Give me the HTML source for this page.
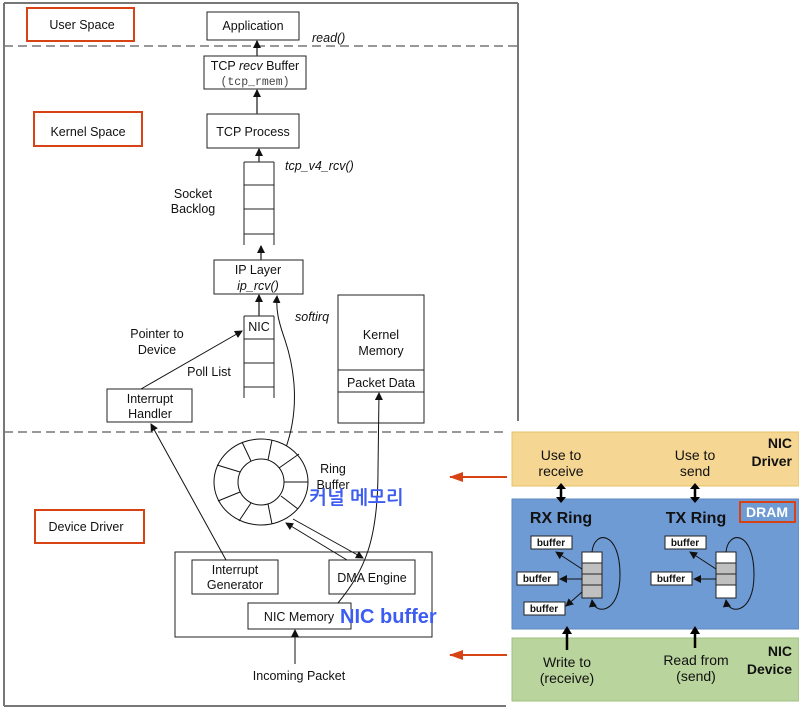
<!DOCTYPE html>
<html><head><meta charset="utf-8"><style>
html,body{margin:0;padding:0;background:#fff;}
svg{display:block;font-family:"Liberation Sans",Arial,sans-serif;}
</style></head><body>
<svg width="799" height="710" viewBox="0 0 799 710" xmlns="http://www.w3.org/2000/svg">
<defs>
<marker id="ah" markerWidth="8" markerHeight="8" refX="7" refY="4" orient="auto" markerUnits="userSpaceOnUse"><path d="M0,0 L8,4 L0,8 z" fill="#111"/></marker>
<marker id="ahr" markerWidth="14" markerHeight="12" refX="13" refY="6" orient="auto" markerUnits="userSpaceOnUse"><path d="M0,1 L14,6 L0,11 z" fill="#d84315"/></marker>
</defs>
<!-- frame -->
<g stroke="#777" stroke-width="2" fill="none">
<line x1="4" y1="3" x2="518" y2="3"/>
<line x1="4" y1="3" x2="4" y2="706"/>
<line x1="518" y1="3" x2="518" y2="421"/>
<line x1="4" y1="706" x2="506" y2="706"/>
</g>
<g stroke="#777" stroke-width="1.5" stroke-dasharray="9,5">
<line x1="4" y1="46" x2="518" y2="46"/>
<line x1="4" y1="432" x2="506" y2="432"/>
</g>
<!-- label boxes -->
<g fill="none" stroke="#d84315" stroke-width="2">
<rect x="27" y="8" width="107" height="33"/>
<rect x="34" y="112" width="108" height="34"/>
<rect x="35" y="510" width="109" height="33"/>
</g>
<g font-size="12.5" fill="#111" text-anchor="middle">
<text x="82" y="29">User Space</text>
<text x="88" y="136">Kernel Space</text>
<text x="86" y="531">Device Driver</text>
</g>
<!-- boxes -->
<g fill="#fff" stroke="#222" stroke-width="1">
<rect x="207" y="12" width="92" height="28"/>
<rect x="204" y="56" width="102" height="33"/>
<rect x="207" y="114" width="92" height="34"/>
<rect x="214" y="260" width="89" height="34"/>
<rect x="107" y="389" width="85" height="33"/>
<rect x="338" y="295" width="86" height="128"/>
<rect x="175" y="552" width="257" height="85"/>
<rect x="192" y="560" width="86" height="34"/>
<rect x="329" y="560" width="86" height="34"/>
<rect x="248" y="603" width="103" height="26"/>
</g>
<g stroke="#222" stroke-width="1">
<line x1="338" y1="370" x2="424" y2="370"/>
<line x1="338" y1="392" x2="424" y2="392"/>
</g>
<g font-size="12.5" fill="#111" text-anchor="middle">
<text x="253" y="30">Application</text>
<text x="255" y="70">TCP <tspan font-style="italic">recv</tspan> Buffer</text>
<text x="255" y="85" font-family="Liberation Mono,monospace" font-size="11.5" fill="#444">(tcp_rmem)</text>
<text x="253" y="136">TCP Process</text>
<text x="258" y="274">IP Layer</text>
<text x="258" y="290" font-style="italic">ip_rcv()</text>
<text x="150" y="403">Interrupt</text>
<text x="150" y="418">Handler</text>
<text x="381" y="339">Kernel</text>
<text x="381" y="355">Memory</text>
<text x="381" y="387">Packet Data</text>
<text x="235" y="574">Interrupt</text>
<text x="235" y="589">Generator</text>
<text x="372" y="582">DMA Engine</text>
<text x="299" y="621">NIC Memory</text>
<text x="299" y="680">Incoming Packet</text>
<text x="193" y="198">Socket</text>
<text x="193" y="213">Backlog</text>
<text x="157" y="338">Pointer to</text>
<text x="157" y="354">Device</text>
<text x="209" y="376">Poll List</text>
<text x="333" y="473">Ring</text>
<text x="333" y="489">Buffer</text>
</g>
<g font-size="12.5" fill="#111" font-style="italic">
<text x="312" y="42">read()</text>
<text x="285" y="170">tcp_v4_rcv()</text>
<text x="295" y="321">softirq</text>
</g>
<!-- stacks -->
<g stroke="#222" stroke-width="1" fill="none">
<line x1="244" y1="162" x2="244" y2="245"/><line x1="274" y1="162" x2="274" y2="245"/>
<line x1="244" y1="162" x2="274" y2="162"/><line x1="244" y1="185" x2="274" y2="185"/>
<line x1="244" y1="209" x2="274" y2="209"/><line x1="244" y1="234" x2="274" y2="234"/>
<line x1="244" y1="316" x2="244" y2="398"/><line x1="274" y1="316" x2="274" y2="398"/>
<line x1="244" y1="316" x2="274" y2="316"/><line x1="244" y1="339" x2="274" y2="339"/>
<line x1="244" y1="363" x2="274" y2="363"/><line x1="244" y1="387" x2="274" y2="387"/>
</g>
<text x="259" y="331" font-size="12.5" text-anchor="middle" fill="#111">NIC</text>
<!-- arrows -->
<g stroke="#444" stroke-width="1.5" fill="none" marker-end="url(#ah)">
<line x1="257" y1="56" x2="257" y2="41"/>
<line x1="257" y1="114" x2="257" y2="90"/>
<line x1="259" y1="162" x2="259" y2="149"/>
<line x1="261" y1="260" x2="261" y2="246"/>
<line x1="259" y1="316" x2="259" y2="295"/>
</g>
<g stroke="#111" stroke-width="1" fill="none">
<line x1="141" y1="389" x2="242" y2="331" marker-end="url(#ah)"/>
<line x1="226" y1="560" x2="151" y2="424" marker-end="url(#ah)"/>
<line x1="295" y1="664" x2="295" y2="630" marker-end="url(#ah)"/>
<path d="M285,450 C300,410 295,370 285,340 C278,320 276,310 277,296" marker-end="url(#ah)"/>
<path d="M338,603 C365,570 378,540 378,470 L379,393" marker-end="url(#ah)"/>
<line x1="293" y1="519" x2="363" y2="558" marker-end="url(#ah)"/>
<line x1="347" y1="560" x2="286" y2="523" marker-end="url(#ah)"/>
</g>
<!-- ring -->
<g stroke="#111" stroke-width="1" fill="none">
<ellipse cx="261" cy="482" rx="47" ry="43" fill="#fff"/>
<circle cx="261" cy="482" r="23"/>
<line x1="284" y1="482" x2="308" y2="482"/>
<line x1="279" y1="468" x2="299" y2="454"/>
<line x1="268" y1="460" x2="272" y2="440"/>
<line x1="251" y1="461" x2="242" y2="442"/>
<line x1="240" y1="472" x2="217" y2="465"/>
<line x1="240" y1="492" x2="218" y2="501"/>
<line x1="251" y1="503" x2="239" y2="521"/>
<line x1="268" y1="504" x2="272" y2="524"/>
<line x1="281" y1="496" x2="298" y2="509"/>
</g>
<text x="309" y="504" font-size="19" font-weight="bold" fill="#3d5cf0" font-family="Liberation Sans,NanumGothic,Noto Sans CJK KR,sans-serif">커널 메모리</text>
<text x="340" y="623" font-size="20" font-weight="bold" fill="#3d5cf0">NIC buffer</text>
<!-- red arrows -->
<g stroke="#d84315" stroke-width="2">
<line x1="507" y1="477" x2="450" y2="477" marker-end="url(#ahr)"/>
<line x1="507" y1="655" x2="450" y2="655" marker-end="url(#ahr)"/>
</g>
<!-- right panel -->
<rect x="512" y="432" width="287" height="54" fill="#f5d693" stroke="#e8c36a"/>
<rect x="512" y="499" width="287" height="130" fill="#6f9bd4" stroke="#5c87c0"/>
<rect x="512" y="638" width="287" height="63" fill="#b9d49c" stroke="#9fc180"/>
<g font-size="14" fill="#111" text-anchor="middle">
<text x="561" y="460">Use to</text><text x="561" y="476">receive</text>
<text x="695" y="460">Use to</text><text x="695" y="476">send</text>
<text x="567" y="667">Write to</text><text x="567" y="683">(receive)</text>
<text x="696" y="665">Read from</text><text x="696" y="681">(send)</text>
</g>
<g font-size="14" font-weight="bold" fill="#111" text-anchor="end">
<text x="792" y="448">NIC</text><text x="792" y="466">Driver</text>
<text x="792" y="656">NIC</text><text x="792" y="674">Device</text>
</g>
<g font-size="16" font-weight="bold" fill="#111" text-anchor="middle">
<text x="561" y="523">RX Ring</text><text x="696" y="523">TX Ring</text>
</g>
<rect x="740" y="502" width="55" height="20" fill="none" stroke="#d84315" stroke-width="2"/>
<text x="767" y="517" font-size="14" font-weight="bold" fill="#fff" text-anchor="middle">DRAM</text>
<g stroke="#000" stroke-width="2.5">
<line x1="561" y1="489" x2="561" y2="497"/><path d="M556,489 L561,483 L566,489 z M556,497 L561,503 L566,497 z" fill="#000" stroke="none"/>
<line x1="695" y1="489" x2="695" y2="497"/><path d="M690,489 L695,483 L700,489 z M690,497 L695,503 L700,497 z" fill="#000" stroke="none"/>
<line x1="567" y1="650" x2="567" y2="634"/><path d="M562,634 L567,626 L572,634 z" fill="#000" stroke="none"/>
<line x1="695" y1="648" x2="695" y2="634"/><path d="M690,634 L695,626 L700,634 z" fill="#000" stroke="none"/>
</g>
<g fill="#fff" stroke="#222" stroke-width="1">
<rect x="531" y="536" width="41" height="13"/><rect x="517" y="572" width="41" height="13"/><rect x="524" y="602" width="41" height="13"/>
<rect x="665" y="536" width="41" height="13"/><rect x="651" y="572" width="41" height="13"/>
<rect x="582" y="552" width="20" height="11"/>
<rect x="582" y="563" width="20" height="11" fill="#c0c0c0"/><rect x="582" y="574" width="20" height="11" fill="#c0c0c0"/><rect x="582" y="585" width="20" height="13" fill="#c0c0c0"/>
<rect x="716" y="552" width="20" height="11"/>
<rect x="716" y="563" width="20" height="11" fill="#c0c0c0"/><rect x="716" y="574" width="20" height="11" fill="#c0c0c0"/><rect x="716" y="585" width="20" height="13"/>
</g>
<g font-size="10" font-weight="bold" fill="#111" text-anchor="middle">
<text x="551" y="546">buffer</text><text x="537" y="582">buffer</text><text x="544" y="612">buffer</text>
<text x="685" y="546">buffer</text><text x="671" y="582">buffer</text>
</g>
<g stroke="#111" stroke-width="1" fill="none">
<line x1="582" y1="569" x2="556" y2="552" marker-end="url(#ah)"/>
<line x1="582" y1="579" x2="560" y2="579" marker-end="url(#ah)"/>
<line x1="582" y1="592" x2="566" y2="606" marker-end="url(#ah)"/>
<path d="M592,552 C594,530 620,530 620,575 C620,615 594,615 592,600" marker-end="url(#ah)"/>
<line x1="716" y1="569" x2="690" y2="552" marker-end="url(#ah)"/>
<line x1="716" y1="579" x2="694" y2="579" marker-end="url(#ah)"/>
<path d="M726,552 C728,530 754,530 754,575 C754,615 728,615 726,600" marker-end="url(#ah)"/>
</g>
</svg>
</body></html>
